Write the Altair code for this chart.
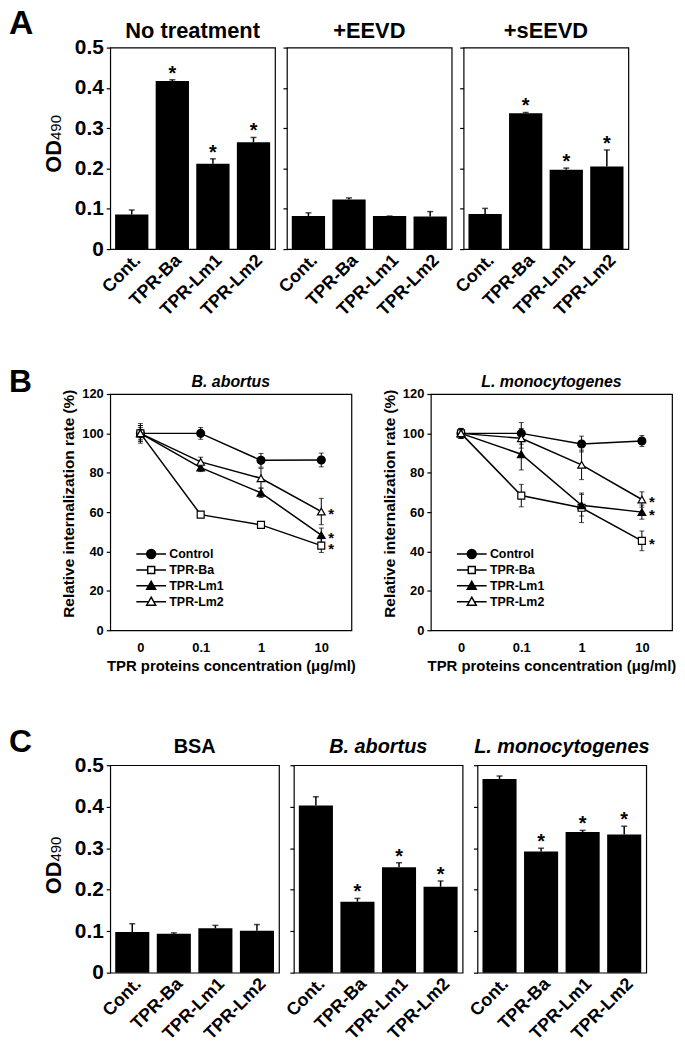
import altair as alt
import pandas as pd

FONT = "Liberation Sans, Arial, Helvetica, sans-serif"

# ---------------- Panel A data ----------------
groups = ["Cont.", "TPR-Ba", "TPR-Lm1", "TPR-Lm2"]
a_titles = ["No treatment", "+EEVD", "+sEEVD"]
a_none_mean = [0.086, 0.417, 0.212, 0.265]
a_none_err = [0.011, 0.003, 0.012, 0.012]
a_none_sig = [False, True, True, True]
a_eevd_mean = [0.082, 0.123, 0.082, 0.081]
a_eevd_err = [0.008, 0.004, 0.0, 0.012]
a_eevd_sig = [False, False, False, False]
a_seevd_mean = [0.087, 0.337, 0.197, 0.205]
a_seevd_err = [0.014, 0.002, 0.004, 0.041]
a_seevd_sig = [False, True, True, True]
od_ticks = [0, 0.1, 0.2, 0.3, 0.4, 0.5]

# ---------------- Panel B data ----------------
concs = ["0", "0.1", "1", "10"]
series = ["Control", "TPR-Ba", "TPR-Lm1", "TPR-Lm2"]
b_titles = ["B. abortus", "L. monocytogenes"]
pct_ticks = [0, 20, 40, 60, 80, 100, 120]

ba_control = [100, 100, 86.3, 86.5]
ba_control_err = [4, 3, 3.5, 3.5]
ba_tprba = [100, 58.7, 53.5, 43]
ba_tprba_err = [3, 1, 1, 3.5]
ba_tprlm1 = [100, 82.6, 69.8, 48.3]
ba_tprlm1_err = [5, 2, 2.4, 3.6]
ba_tprlm2 = [100, 85.5, 77.2, 60.3]
ba_tprlm2_err = [4, 2.4, 5, 6.7]

lm_control = [100, 100, 94.6, 96.1]
lm_control_err = [2.5, 5.5, 4, 2.8]
lm_tprba = [100, 68.4, 62.2, 45.4]
lm_tprba_err = [2.5, 5.7, 7.5, 5]
lm_tprlm1 = [100, 89.4, 63.5, 60]
lm_tprlm1_err = [2.5, 8, 5.5, 3.6]
lm_tprlm2 = [100, 97.5, 84, 66.4]
lm_tprlm2_err = [2.5, 5, 7.5, 3.9]
sig_series = ["TPR-Ba", "TPR-Lm1", "TPR-Lm2"]

# ---------------- Panel C data ----------------
c_titles = ["BSA", "B. abortus", "L. monocytogenes"]
c_bsa_mean = [0.098, 0.094, 0.107, 0.101]
c_bsa_err = [0.020, 0.002, 0.007, 0.015]
c_bsa_sig = [False, False, False, False]
c_ba_mean = [0.403, 0.171, 0.254, 0.207]
c_ba_err = [0.021, 0.008, 0.011, 0.014]
c_ba_sig = [False, True, True, True]
c_lm_mean = [0.467, 0.292, 0.339, 0.333]
c_lm_err = [0.007, 0.008, 0.004, 0.020]
c_lm_sig = [False, True, True, True]

# legend symbols: line stubs + marker (unit square -1..1 scaled by sqrt(size)/2)
legend_paths = [
    "M-3,0H-0.9M0.9,0H3M0.9,0A0.9,0.9,0,1,1,-0.9,0A0.9,0.9,0,1,1,0.9,0Z",
    "M-3,0H-0.7M0.7,0H3M-0.7,-0.7H0.7V0.7H-0.7Z",
    "M-3,0H-0.5M0.5,0H3M0,-0.9L0.9,0.7L-0.9,0.7Z",
    "M-3,0H-0.5M0.5,0H3M0,-0.9L0.9,0.7L-0.9,0.7Z",
]
legend_fills = ["black", "white", "black", "white"]
legend_strokes = ["black", "black", "black", "black"]
point_styles = {
    "Control": ("circle", "black", 64),
    "TPR-Ba": ("square", "white", 49),
    "TPR-Lm1": ("triangle-up", "black", 60),
    "TPR-Lm2": ("triangle-up", "white", 60),
}


def text_layer(label, x, y, size, weight="bold", style="normal", align="left", angle=0):
    return alt.Chart(pd.DataFrame({"lab": [label]})).mark_text(
        fontSize=size, fontWeight=weight, fontStyle=style, align=align,
        baseline="alphabetic", angle=angle, color="black"
    ).encode(x=alt.value(x), y=alt.value(y), text="lab:N")


def od_layers(y_start):
    return [
        text_layer("OD", -50, y_start, 22, angle=270),
        text_layer("490", -50, y_start - 33, 15, weight="normal", angle=270),
    ]


def bar_panel(title, means, errs, sig, width, height, first, italic, tsize, toffset, extra):
    df = pd.DataFrame({"group": groups, "mean": means, "err": errs})
    df["top"] = df["mean"] + df["err"]
    df["star"] = ["*" if s else "" for s in sig]
    xax = alt.Axis(title=None, labelAngle=-45, labelFontSize=18, ticks=False,
                   labelPadding=2, domain=False, grid=False)
    yax = alt.Axis(title=None, values=od_ticks, format="~g", labels=first, labelFontSize=21,
                   tickSize=4, labelPadding=3, domain=False, grid=False)
    yscale = alt.Scale(domain=[0, 0.5], nice=False)

    def X():
        return alt.X("group:N", sort=groups,
                     scale=alt.Scale(paddingInner=0.18, paddingOuter=0.12), axis=xax)

    def Y(f):
        return alt.Y(f, scale=yscale, axis=yax)

    base = alt.Chart(df)
    bars = base.mark_bar(color="black").encode(x=X(), y=Y("mean:Q"))
    rule = base.mark_rule(color="black", strokeWidth=1.5).encode(x=X(), y=Y("mean:Q"), y2="top:Q")
    cap = base.mark_tick(color="black", size=6, thickness=1.5).encode(x=X(), y=Y("top:Q"))
    star = base.transform_filter("datum.star != ''").mark_text(
        fontSize=20, fontWeight="bold", baseline="alphabetic", color="black"
    ).encode(x=X(), y=Y("top:Q"), text="star:N")
    ttl = text_layer(title, width / 2, -toffset, tsize, style="italic" if italic else "normal",
                     align="center")
    layers = [bars, rule, cap, star, ttl] + extra
    return alt.layer(*layers).properties(width=width, height=height)


def line_panel(title, vals, errs, extra):
    rows = []
    for s in series:
        for i, c in enumerate(concs):
            rows.append({"series": s, "conc": c, "val": vals[s][i], "err": errs[s][i]})
    df = pd.DataFrame(rows)
    df["lo"] = df["val"] - df["err"]
    df["hi"] = df["val"] + df["err"]
    df["sig"] = [(r.series in sig_series and r.conc == "10") for r in df.itertuples()]

    xax = alt.Axis(title="TPR proteins concentration (μg/ml)", labelAngle=0, ticks=False,
                   labelFontSize=13, titleFontSize=15, labelPadding=11, titlePadding=5,
                   domain=False, grid=False)
    yax = alt.Axis(title="Relative internalization rate (%)", values=pct_ticks, labelFontSize=13,
                   titleFontSize=15.5, tickSize=4, labelPadding=3, titlePadding=5, titleY=110,
                   domain=False, grid=False)
    yscale = alt.Scale(domain=[0, 120], nice=False)

    def X():
        return alt.X("conc:O", sort=concs, scale=alt.Scale(type="point", padding=0.5), axis=xax)

    def Y(f):
        return alt.Y(f, scale=yscale, axis=yax)

    base = alt.Chart(df)
    lines = base.mark_line(color="black", strokeWidth=1.5).encode(x=X(), y=Y("val:Q"), detail="series:N")
    ebar = base.mark_rule(color="black", strokeWidth=1).encode(x=X(), y=Y("lo:Q"), y2="hi:Q")
    cap_lo = base.mark_tick(color="black", size=5, thickness=1).encode(x=X(), y=Y("lo:Q"))
    cap_hi = base.mark_tick(color="black", size=5, thickness=1).encode(x=X(), y=Y("hi:Q"))
    pts = []
    for s in series:
        shp, fil, sz = point_styles[s]
        pts.append(
            base.transform_filter(alt.datum.series == s).mark_point(
                shape=shp, filled=True, fill=fil, stroke="black", strokeWidth=1.2, size=sz, opacity=1
            ).encode(x=X(), y=Y("val:Q"))
        )
    stars = base.transform_filter("datum.sig").mark_text(
        text="*", fontSize=15, fontWeight="bold", dx=10, dy=8, baseline="alphabetic", color="black"
    ).encode(x=X(), y=Y("val:Q"))
    leg = alt.Legend(title=None, orient="none", legendX=35, legendY=155, padding=0,
                     labelFontSize=12.5, labelFontWeight="bold", labelOffset=12, rowPadding=1,
                     symbolStrokeWidth=1.5, symbolSize=100)
    legend_layer = base.transform_filter("datum.val < 0").mark_point(
        filled=True, size=100, strokeWidth=1.5, opacity=1
    ).encode(
        x=X(), y=Y("val:Q"),
        shape=alt.Shape("series:N", scale=alt.Scale(domain=series, range=legend_paths), legend=leg),
        fill=alt.Fill("series:N", scale=alt.Scale(domain=series, range=legend_fills), legend=leg),
        stroke=alt.Stroke("series:N", scale=alt.Scale(domain=series, range=legend_strokes), legend=leg),
    )
    ttl = text_layer(title, 243 / 2, -7, 16, style="italic", align="center")
    layers = [lines, ebar, cap_lo, cap_hi] + pts + [stars, legend_layer, ttl] + extra
    return alt.layer(*layers).properties(width=243, height=238)


# ---------------- Build rows ----------------
A_W, A_H = 166, 203
rowA = alt.hconcat(
    bar_panel(a_titles[0], a_none_mean, a_none_err, a_none_sig, A_W, A_H, True, False, 22, 10,
              [text_layer("A", -102, -14, 34)] + od_layers(126)),
    bar_panel(a_titles[1], a_eevd_mean, a_eevd_err, a_eevd_sig, A_W, A_H, False, False, 22, 10, []),
    bar_panel(a_titles[2], a_seevd_mean, a_seevd_err, a_seevd_sig, A_W, A_H, False, False, 22, 10, []),
    spacing=12, bounds="flush",
)

ba_vals = {"Control": ba_control, "TPR-Ba": ba_tprba, "TPR-Lm1": ba_tprlm1, "TPR-Lm2": ba_tprlm2}
ba_errs = {"Control": ba_control_err, "TPR-Ba": ba_tprba_err, "TPR-Lm1": ba_tprlm1_err, "TPR-Lm2": ba_tprlm2_err}
lm_vals = {"Control": lm_control, "TPR-Ba": lm_tprba, "TPR-Lm1": lm_tprlm1, "TPR-Lm2": lm_tprlm2}
lm_errs = {"Control": lm_control_err, "TPR-Ba": lm_tprba_err, "TPR-Lm1": lm_tprlm1_err, "TPR-Lm2": lm_tprlm2_err}

rowB = alt.hconcat(
    line_panel(b_titles[0], ba_vals, ba_errs, [text_layer("B", -102, -2, 32)]),
    line_panel(b_titles[1], lm_vals, lm_errs, []),
    spacing=80, bounds="flush",
).resolve_scale(shape="independent", fill="independent", stroke="independent")

C_W, C_H = 170, 209
rowC = alt.hconcat(
    bar_panel(c_titles[0], c_bsa_mean, c_bsa_err, c_bsa_sig, C_W, C_H, True, False, 20, 12,
              [text_layer("C", -102, -13, 32)] + od_layers(130)),
    bar_panel(c_titles[1], c_ba_mean, c_ba_err, c_ba_sig, C_W, C_H, False, True, 20, 12, []),
    bar_panel(c_titles[2], c_lm_mean, c_lm_err, c_lm_sig, C_W, C_H, False, True, 20, 12, []),
    spacing=15, bounds="flush",
)

topAB = alt.vconcat(rowA, rowB, spacing=45)
chart = alt.vconcat(topAB, rowC, spacing=51).properties(
    padding={"left": 0, "top": -6, "right": 0, "bottom": 0}
).configure(font=FONT).configure_view(
    stroke="black", strokeWidth=1.2
).configure_axis(
    labelColor="black", titleColor="black", tickColor="black", tickWidth=1.2,
    labelFont=FONT, titleFont=FONT, labelFontWeight="bold", titleFontWeight="bold",
).configure_legend(
    labelFont=FONT, labelColor="black",
).configure_title(font=FONT, color="black")

chart.save("out.html", embed_options={"renderer": "svg", "actions": False})
